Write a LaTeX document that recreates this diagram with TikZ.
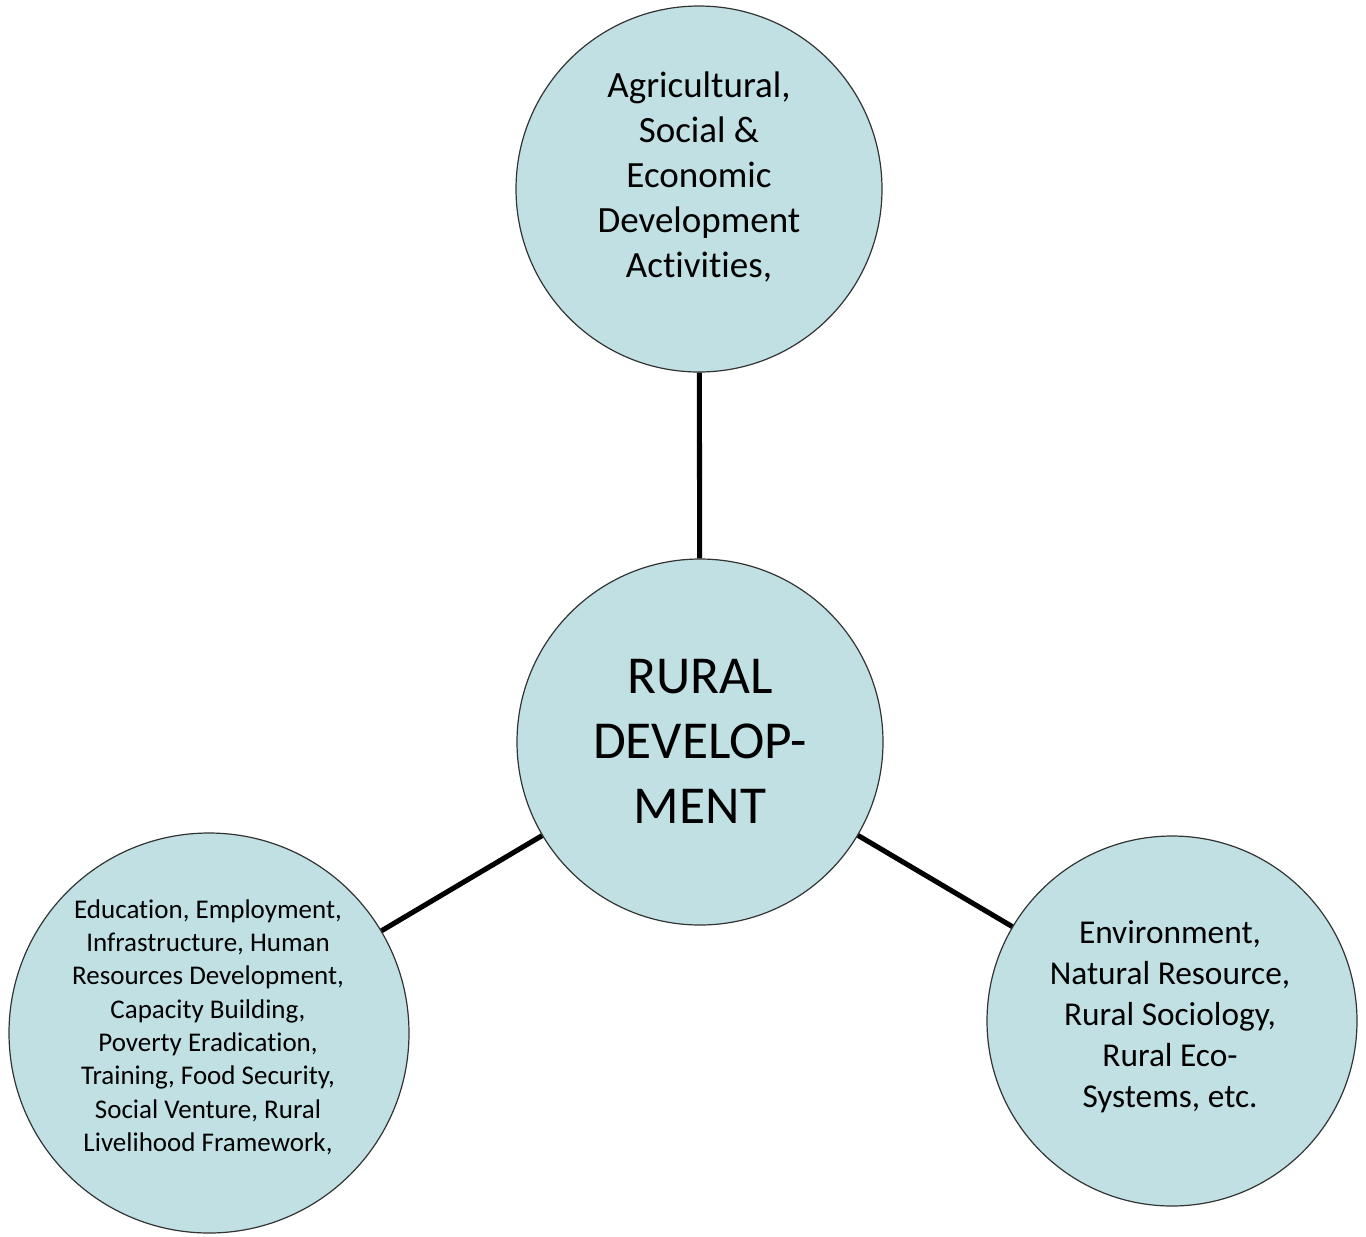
\documentclass[tikz,border=0pt]{standalone}
\usepackage{fontspec}
\setmainfont{Carlito}[Ligatures={NoCommon}]
\definecolor{bub}{RGB}{192,224,228}
\begin{document}
\begin{tikzpicture}[x=0.75pt,y=-0.75pt,
  bubble/.style={circle, draw=black!80, line width=0.9pt, fill=bub, inner sep=0pt},
  label/.style={align=center, inner sep=0pt, text=black},
  link/.style={line width=3.8pt, black}]
\useasboundingbox (0,0) rectangle (1366,1236);
\node[bubble, minimum size=274.5pt] (top) at (699,189) {};
\node[bubble, minimum size=274.5pt] (center) at (700,742) {};
\node[bubble, minimum size=300pt] (left) at (209,1033) {};
\node[bubble, minimum size=277.5pt] (right) at (1172,1021) {};
\draw[link] (top) -- (center);
\draw[link] (center) -- (left);
\draw[link] (center) -- (right);
\node[label, font=\fontsize{27.75}{33.75}\selectfont] (toptext) at (699,177)
  {Agricultural,\\Social \&\\Economic\\Development\\Activities,};
\node[label, font=\fontsize{40}{48.75}\selectfont] (centertext) at (700,741)
  {RURAL\\DEVELOP-\\MENT};
\node[label, font=\fontsize{20.25}{25}\selectfont] (lefttext) at (208,1027)
  {Education, Employment,\\Infrastructure, Human\\Resources Development,\\Capacity Building,\\Poverty Eradication,\\Training, Food Security,\\Social Venture, Rural\\Livelihood Framework,};
\node[label, font=\fontsize{25}{30.75}\selectfont] (righttext) at (1170,1017)
  {Environment,\\Natural Resource,\\Rural Sociology,\\Rural Eco-\\Systems, etc.};
\end{tikzpicture}
\end{document}
